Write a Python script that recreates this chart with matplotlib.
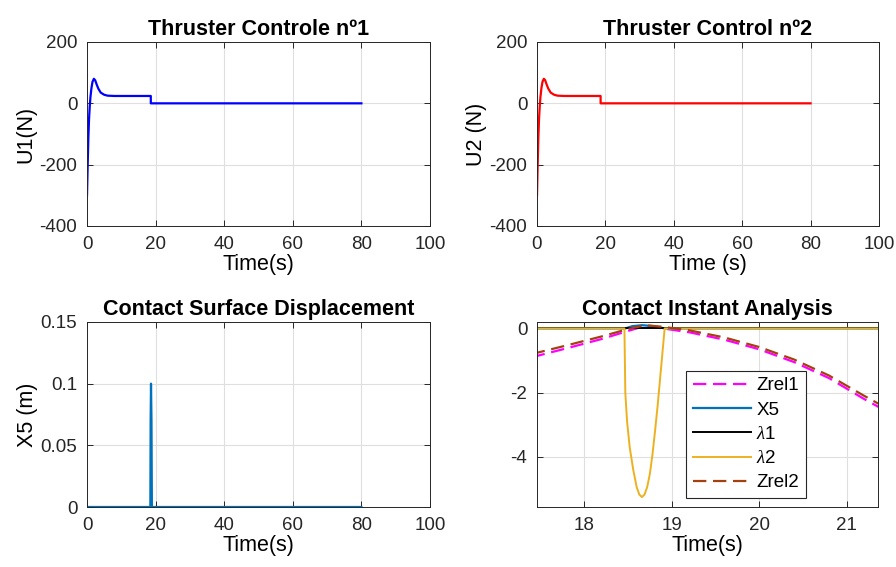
import matplotlib
matplotlib.use('Agg')
import matplotlib.pyplot as plt

plt.rcParams['font.family'] = ['Liberation Sans', 'DejaVu Sans']
plt.rcParams['axes.unicode_minus'] = False
plt.rcParams['mathtext.fontset'] = 'custom'
plt.rcParams['mathtext.it'] = 'Liberation Serif:italic'

# thruster commands (same shape for both)
t_u = [0, 0.2, 0.4, 0.6, 0.8, 1.0, 1.3, 1.6, 2.0, 2.4, 2.8, 3.3, 4, 5, 6, 8, 18.6, 18.6, 80]
u1 = [-300, -200, -110, -50, -10, 20, 50, 70, 80, 75, 62, 48, 35, 28, 25, 24, 24, 0, 0]
u2 = [-300, -200, -110, -50, -10, 20, 50, 70, 80, 75, 62, 48, 35, 28, 25, 24, 24, 0, 0]

# contact surface displacement
t_x5 = [0, 18.47, 18.55, 18.66, 18.8, 18.92, 80]
x5 = [0, 0, 0.07, 0.1, 0.07, 0, 0]

# contact instant analysis
t_z = [17.4, 17.8, 18.2, 18.5, 18.7, 18.9, 19.2, 19.6, 20.0, 20.4, 20.8, 21.2, 21.4]
zrel1 = [-0.9, -0.62, -0.33, -0.08, 0.08, 0.0, -0.12, -0.35, -0.65, -1.05, -1.55, -2.2, -2.5]
zrel2 = [-0.8, -0.53, -0.25, -0.02, 0.1, 0.05, -0.06, -0.28, -0.58, -0.97, -1.47, -2.1, -2.4]
t_l1 = [17.4, 21.4]
lam1 = [0, 0]
t_l2 = [17.4, 18.46, 18.47, 18.49, 18.52, 18.56, 18.6, 18.63, 18.66, 18.69, 18.72, 18.75,
        18.78, 18.81, 18.84, 18.87, 18.9, 18.92, 21.4]
lam2 = [0, 0, -2.0, -2.9, -3.7, -4.4, -4.95, -5.18, -5.26, -5.18, -4.95, -4.55,
        -3.95, -3.2, -2.4, -1.5, -0.6, 0, 0]

fig = plt.figure(figsize=(8.96, 5.67), dpi=100)
W, H = 896, 567

def make_ax(x0, x1, y0, y1):
    return fig.add_axes([x0 / W, 1 - y1 / H, (x1 - x0) / W, (y1 - y0) / H])

def style(ax):
    ax.grid(True, color='#dfdfdf', linewidth=0.8)
    ax.set_axisbelow(True)
    ax.tick_params(direction='in', length=4, top=True, right=True, labelsize=13.5,
                   colors='#262626', width=0.7, pad=7)
    for s in ax.spines.values():
        s.set_color('#262626')
        s.set_linewidth(0.7)

ax1 = make_ax(87, 430, 42, 226)
ax1.plot(t_u, u1, color='b', lw=1.6)
ax1.set_xlim(0, 100)
ax1.set_ylim(-400, 200)
ax1.set_yticks([-400, -200, 0, 200])
ax1.set_title('Thruster Controle nº1', fontsize=15.5, fontweight='bold', pad=5)
ax1.set_xlabel('Time(s)', fontsize=15.5, labelpad=1)
ax1.set_ylabel('U1(N)', fontsize=15.5, labelpad=2)
style(ax1)

ax2 = make_ax(537, 879, 42, 226)
ax2.plot(t_u, u2, color='r', lw=1.6)
ax2.set_xlim(0, 100)
ax2.set_ylim(-400, 200)
ax2.set_yticks([-400, -200, 0, 200])
ax2.set_title('Thruster Control nº2', fontsize=15.5, fontweight='bold', pad=5)
ax2.set_xlabel('Time (s)', fontsize=15.5, labelpad=1)
ax2.set_ylabel('U2 (N)', fontsize=15.5, labelpad=2)
style(ax2)

ax3 = make_ax(87, 430, 322, 507)
ax3.plot(t_x5, x5, color='#0072BD', lw=1.6)
ax3.set_xlim(0, 100)
ax3.set_ylim(0, 0.15)
ax3.set_yticks([0, 0.05, 0.1, 0.15])
ax3.set_yticklabels(['0', '0.05', '0.1', '0.15'])
ax3.set_title('Contact Surface Displacement', fontsize=15.5, fontweight='bold', pad=5)
ax3.set_xlabel('Time(s)', fontsize=15.5, labelpad=1)
ax3.set_ylabel('X5 (m)', fontsize=15.5, labelpad=2)
style(ax3)

ax4 = make_ax(537, 878, 322, 507)
ax4.plot(t_z, zrel1, '--', color='#FF00FF', lw=1.6, dashes=(6, 3), label='Zrel1')
ax4.plot(t_x5, x5, color='#0072BD', lw=1.6, label='X5')
ax4.plot(t_l1, lam1, color='k', lw=1.4, label='$\\lambda$1')
ax4.plot(t_l2, lam2, color='#EDB120', lw=1.4, label='$\\lambda$2')
ax4.plot(t_z, zrel2, '--', color='#A5400F', lw=1.6, dashes=(6, 3), label='Zrel2')
ax4.set_xlim(17.46, 21.36)
ax4.set_ylim(-5.57, 0.2)
ax4.set_xticks([18, 19, 20, 21])
ax4.set_yticks([-4, -2, 0])
ax4.set_title('Contact Instant Analysis', fontsize=15.5, fontweight='bold', pad=5)
ax4.set_xlabel('Time(s)', fontsize=15.5, labelpad=1)
style(ax4)
leg = ax4.legend(loc='lower left', bbox_to_anchor=(0.437, 0.049),
                 fontsize=13.5, fancybox=False, edgecolor='#262626', framealpha=1,
                 handlelength=3.1, handletextpad=0.3, labelspacing=0.38, borderpad=0.35,
                 borderaxespad=0)
leg.get_frame().set_linewidth(0.8)

fig.savefig('out.png', dpi=100)
